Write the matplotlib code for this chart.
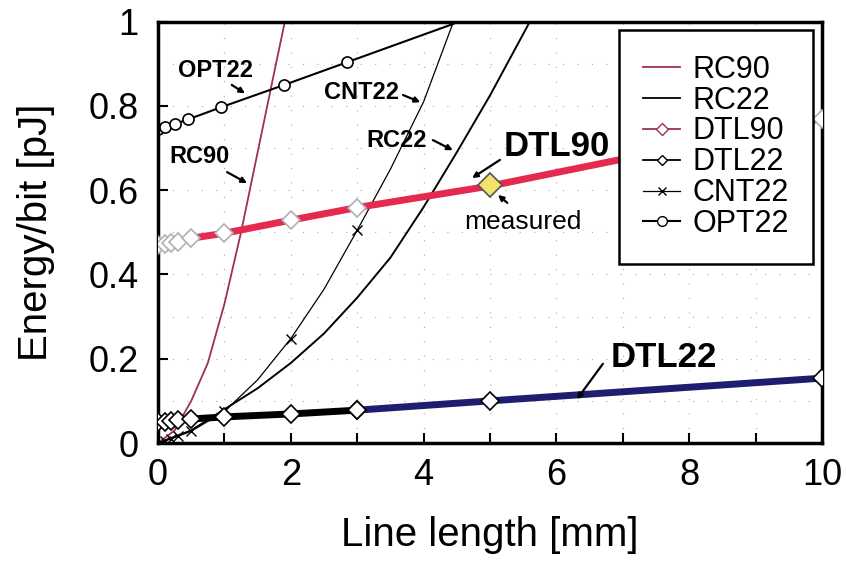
import matplotlib
matplotlib.use("Agg")
import matplotlib.pyplot as plt
from matplotlib.lines import Line2D

plt.rcParams['font.family'] = ['Liberation Sans', 'DejaVu Sans']

# line length [mm] / energy per bit [pJ]
dtl_len = [0, 0.1, 0.2, 0.3, 0.5, 1, 2, 3, 5, 10]
dtl90 = [0.47, 0.472, 0.475, 0.478, 0.486, 0.498, 0.529, 0.559, 0.61, 0.77]
dtl22 = [0.05, 0.051, 0.053, 0.055, 0.057, 0.062, 0.069, 0.078, 0.10, 0.154]

rc90_len = [0, 0.25, 0.5, 0.75, 1, 1.25, 1.5, 1.75, 1.91]
rc90 = [0, 0.03, 0.1, 0.19, 0.33, 0.5, 0.69, 0.88, 1.0]

rc22_len = [0, 0.5, 1, 1.5, 2, 2.5, 3, 3.5, 4, 4.5, 5, 5.6]
rc22 = [0, 0.03, 0.08, 0.13, 0.19, 0.26, 0.345, 0.44, 0.56, 0.69, 0.825, 1.0]

cnt_len = [0, 0.1, 0.2, 0.3, 0.5, 1, 1.5, 2, 2.5, 3, 3.5, 4, 4.45]
cnt22 = [0, 0.005, 0.01, 0.016, 0.028, 0.075, 0.15, 0.248, 0.365, 0.505, 0.65, 0.81, 1.0]

opt_len = [0, 0.1, 0.25, 0.45, 0.95, 1.9, 2.85, 4.45]
opt22 = [0.745, 0.75, 0.757, 0.768, 0.797, 0.85, 0.904, 0.995]

measured_len = [5]
measured = [0.612]

RED = '#e42a4e'
MAROON = '#a0304f'
NAVY = '#1e1e70'

fig = plt.figure(figsize=(8.46, 5.64), dpi=100)
ax = fig.add_axes([0.1868, 0.2145, 0.7848, 0.747])

ax.plot(rc90_len, rc90, color=MAROON, lw=1.3)
ax.plot(rc22_len, rc22, color='black', lw=1.4)
ax.plot(cnt_len, cnt22, color='black', lw=0.9, marker='x', ms=7, mew=1,
        markevery=[1, 2, 3, 4, 5, 7, 9])
ax.plot(opt_len, opt22, color='black', lw=1.5, marker='o', ms=8,
        mfc='white', mec='black', mew=1.2, markevery=list(range(7)))
ax.plot(dtl_len, dtl90, color=RED, lw=5, marker='D', ms=9,
        mfc='white', mec='#b0b0b0', mew=1.2, zorder=4)
ax.plot(dtl_len[:8], dtl22[:8], color='black', lw=5, marker='D', ms=9,
        mfc='white', mec='black', mew=1.2, zorder=4)
ax.plot(dtl_len[7:], dtl22[7:], color=NAVY, lw=5, marker='D', ms=9,
        mfc='white', mec='black', mew=1.2, zorder=3)
ax.plot(measured_len, measured, ls='none', marker='D', ms=12,
        mfc='#f2e36a', mec='#555555', mew=1.2, zorder=5)

ax.set_xlim(0, 10)
ax.set_ylim(0, 1)
ax.set_xticks([0, 2, 4, 6, 8, 10])
ax.set_xticks([1, 3, 5, 7, 9], minor=True)
ax.set_yticks([0, 0.2, 0.4, 0.6, 0.8, 1])
ax.set_yticklabels(['0', '0.2', '0.4', '0.6', '0.8', '1'])
ax.tick_params(direction='in', length=7, width=1.5, labelsize=26)
ax.tick_params(axis='x', which='minor', direction='in', length=7, width=1.5)
ax.tick_params(axis='y', pad=14)
ax.tick_params(axis='x', pad=11)
for s in ax.spines.values():
    s.set_linewidth(2.5)

for gx in range(1, 10):
    ax.axvline(gx, color='#aaaaaa', lw=0.8, ls=(0, (1, 12)), zorder=0)
for gy in [0.1, 0.2, 0.3, 0.4, 0.5, 0.6, 0.7, 0.8, 0.9]:
    ax.axhline(gy, color='#aaaaaa', lw=0.8, ls=(0, (1, 12)), zorder=0)

ax.set_xlabel('Line length [mm]', fontsize=29, labelpad=16)
ax.set_ylabel('Energy/bit [pJ]', fontsize=29, labelpad=24)

arrow = dict(arrowstyle='-|>', color='black', lw=1.6, mutation_scale=8,
             shrinkA=0, shrinkB=0)


def label(txt, pos, start, tip, size=17, weight='bold'):
    ax.text(pos[0], pos[1], txt, fontsize=size, fontweight=weight,
            ha='center', va='center', zorder=6)
    ax.annotate('', xy=tip, xytext=start, arrowprops=arrow, zorder=6)


label('OPT22', (0.87, 0.885), (1.11, 0.85), (1.31, 0.83))
label('CNT22', (3.07, 0.833), (3.69, 0.826), (3.95, 0.809))
label('RC22', (3.6, 0.717), (4.14, 0.719), (4.44, 0.695))
label('RC90', (0.62, 0.679), (1.04, 0.643), (1.34, 0.617))
label('DTL90', (6.01, 0.703), (5.15, 0.672), (4.73, 0.629), size=25)
label('measured', (5.5, 0.525), (5.26, 0.57), (5.12, 0.589), size=19,
      weight='normal')
label('DTL22', (7.62, 0.202), (6.70, 0.188), (6.31, 0.104), size=25)

handles = [
    Line2D([], [], color=MAROON, lw=1.3),
    Line2D([], [], color='black', lw=1.3),
    Line2D([], [], color=MAROON, lw=1.3, marker='D', ms=6, mfc='white',
           mec=MAROON),
    Line2D([], [], color='black', lw=1.3, marker='D', ms=5, mfc='white',
           mec='black'),
    Line2D([], [], color='black', lw=0.9, marker='x', ms=6),
    Line2D([], [], color='black', lw=1.5, marker='o', ms=7, mfc='white',
           mec='black'),
]
names = ['RC90', 'RC22', 'DTL90', 'DTL22', 'CNT22', 'OPT22']
leg = ax.legend(handles, names, loc='upper left', bbox_to_anchor=(0.694, 0.98),
                fontsize=22, labelspacing=0.03, handlelength=1.2,
                handletextpad=0.4, borderpad=0.8, fancybox=False,
                framealpha=1, edgecolor='black', borderaxespad=0)
leg.get_frame().set_linewidth(1.8)
leg.set_zorder(7)

fig.savefig('out.png', dpi=100)
